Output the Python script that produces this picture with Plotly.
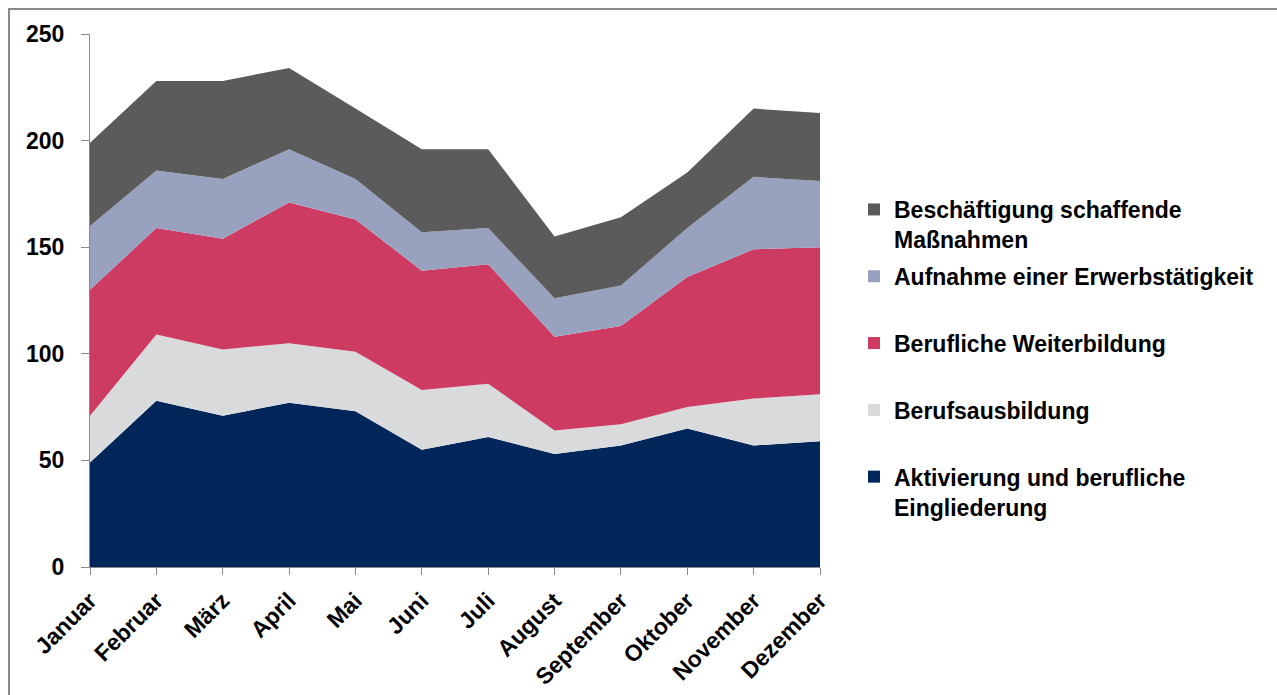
import plotly.graph_objects as go

months = ["Januar", "Februar", "März", "April", "Mai", "Juni", "Juli",
          "August", "September", "Oktober", "November", "Dezember"]

aktivierung = [49, 78, 71, 77, 73, 55, 61, 53, 57, 65, 57, 59]
berufsausbildung = [22, 31, 31, 28, 28, 28, 25, 11, 10, 10, 22, 22]
weiterbildung = [59, 50, 52, 66, 62, 56, 56, 44, 46, 61, 70, 69]
erwerbstaetigkeit = [30, 27, 28, 25, 19, 18, 17, 18, 19, 23, 34, 31]
beschaeftigung = [39, 42, 46, 38, 33, 39, 37, 29, 32, 26, 32, 32]

series = [
    ("Aktivierung und berufliche<br>Eingliederung", aktivierung, "#00265A"),
    ("Berufsausbildung<br> ", berufsausbildung, "#D9DADC"),
    ("Berufliche Weiterbildung<br> ", weiterbildung, "#CD3A62"),
    ("Aufnahme einer Erwerbstätigkeit<br> ", erwerbstaetigkeit, "#98A2BF"),
    ("Beschäftigung schaffende<br>Maßnahmen", beschaeftigung, "#5B5B5B"),
]

fig = go.Figure()
for name, vals, col in series:
    fig.add_trace(go.Scatter(
        x=months, y=vals, stackgroup="one", mode="none",
        fillcolor=col, line=dict(width=0), name=name, showlegend=False,
    ))

for i, (name, vals, col) in enumerate(reversed(series)):
    fig.add_trace(go.Scatter(
        x=[None], y=[None], mode="markers", name=name,
        marker=dict(symbol="square", size=12, color=col),
        legendgroup="g%d" % i, showlegend=True,
    ))

W, H = 1277, 695
L, R, T, B = 90, 457, 34, 128
pw = W - L - R
ph = H - T - B

def px_x(p):
    return (p - L) / pw

def px_y(p):
    return (H - B - p) / ph

font_family = "Liberation Sans, Arial, sans-serif"

fig.update_layout(
    width=W, height=H,
    margin=dict(l=L, r=R, t=T, b=B, pad=0, autoexpand=False),
    paper_bgcolor="white", plot_bgcolor="white",
    font=dict(family=font_family, color="black"),
    xaxis=dict(
        type="category", range=[0, 11], showgrid=False, zeroline=False,
        automargin=False,
        showline=True, linecolor="#8A8A8A", linewidth=1,
        ticks="outside", ticklen=7, tickcolor="#8A8A8A",
        tickangle=-45, ticklabelstandoff=3,
        tickfont=dict(family=font_family, size=23, color="black", weight="bold"),
    ),
    yaxis=dict(
        range=[0, 250], dtick=50, showgrid=False, zeroline=False,
        automargin=False,
        showline=True, linecolor="#8A8A8A", linewidth=1,
        ticks="outside", ticklen=8, tickcolor="#8A8A8A",
        ticklabelstandoff=12,
        tickfont=dict(family=font_family, size=23, color="black", weight="bold"),
    ),
    legend=dict(
        x=px_x(854), xanchor="left", y=px_y(188), yanchor="top",
        traceorder="grouped", tracegroupgap=4, valign="top",
        font=dict(family=font_family, size=23, color="black", weight="bold"),
        bgcolor="rgba(0,0,0,0)",
    ),
    shapes=[dict(
        type="rect", xref="paper", yref="paper",
        x0=px_x(9), x1=px_x(W + 50), y0=px_y(9), y1=px_y(H + 50),
        line=dict(color="#8A8A8A", width=2), fillcolor="rgba(0,0,0,0)",
        layer="above",
    )],
)

fig.write_html("out.html")
